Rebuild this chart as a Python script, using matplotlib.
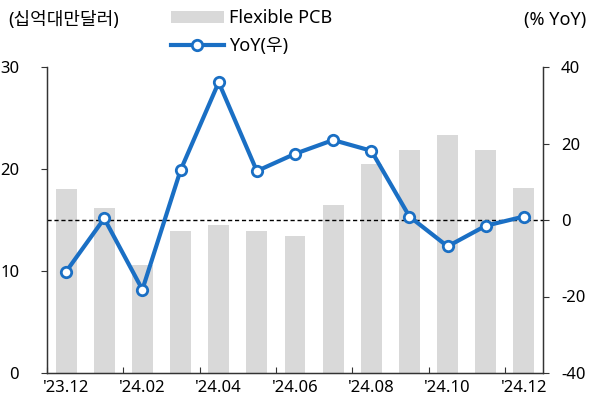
import matplotlib
matplotlib.use("Agg")
import matplotlib.pyplot as plt
from matplotlib.lines import Line2D
from matplotlib.patches import Patch

plt.rcParams['font.family'] = ['Noto Sans', 'Noto Sans CJK KR', 'DejaVu Sans']
plt.rcParams['font.size'] = 12
plt.rcParams['axes.unicode_minus'] = False

months = ["'23.12", "'24.01", "'24.02", "'24.03", "'24.04", "'24.05", "'24.06",
          "'24.07", "'24.08", "'24.09", "'24.10", "'24.11", "'24.12"]
sales = [18.0, 16.2, 10.6, 13.9, 14.5, 13.9, 13.4, 16.5, 20.5, 21.9, 23.3, 21.9, 18.1]
yoy = [-13.5, 0.4, -18.2, 13.0, 36.0, 12.8, 17.3, 20.9, 18.1, 0.9, -6.9, -1.5, 0.9]

bar_color = '#d9d9d9'
line_color = '#1a6fc4'
spine_color = '#333333'

fig = plt.figure(figsize=(5.92, 4.05), dpi=100)
ax = fig.add_axes([47/592, 32/405, 496/592, 306/405])
x = list(range(len(months)))
ax.bar(x, sales, width=0.55, color=bar_color, zorder=1)
ax.set_ylim(0, 30)
ax.set_yticks([0, 10, 20, 30])
ax.set_xlim(-0.5, len(months) - 0.5)

# ticks sit on category boundaries, labels under every other category
ax.set_xticks([i - 0.5 for i in range(0, len(months), 2)])
ax.set_xticklabels([])
ax.set_xticks(list(range(0, len(months), 2)), minor=True)
ax.set_xticklabels([months[i] for i in range(0, len(months), 2)], minor=True)
ax.tick_params(axis='x', which='major', direction='in', length=4, color=spine_color)
ax.tick_params(axis='x', which='minor', length=0, pad=5, labelsize=12)
ax.tick_params(axis='y', direction='out', length=4, pad=16, color=spine_color,
               labelsize=12)
ax.spines['top'].set_visible(False)
for s in ['left', 'bottom', 'right']:
    ax.spines[s].set_color(spine_color)
    ax.spines[s].set_linewidth(1.0)

ax2 = ax.twinx()
ax2.set_ylim(-40, 40)
ax2.set_yticks([-40, -20, 0, 20, 40])
ax2.tick_params(axis='y', direction='out', length=4, pad=9, color=spine_color,
                labelsize=12)
ax2.spines['top'].set_visible(False)
for s in ['left', 'bottom', 'right']:
    ax2.spines[s].set_color(spine_color)
ax2.axhline(0, color='black', linestyle=(0, (3, 2)), linewidth=1.0, zorder=2)
ax2.plot(x, yoy, color=line_color, linewidth=3.0, marker='o', markersize=7.5,
         markerfacecolor='white', markeredgecolor=line_color, markeredgewidth=2.0,
         zorder=3)

fig.text(8/592, 1 - 20/405, '(십억대만달러)', ha='left', va='center', fontsize=13)
fig.text(586/592, 1 - 20/405, '(% YoY)', ha='right', va='center', fontsize=13)

handles = [Patch(facecolor=bar_color, edgecolor='none'),
           Line2D([], [], color=line_color, linewidth=3.0, marker='o', markersize=7.5,
                  markerfacecolor='white', markeredgecolor=line_color, markeredgewidth=2.0)]
fig.legend(handles, ['Flexible PCB', 'YoY(우)'], loc='upper left',
           bbox_to_anchor=(164/592, 1 - 2/405), frameon=False, fontsize=13,
           handlelength=2.9, handleheight=0.7, handletextpad=0.3, labelspacing=0.55,
           borderaxespad=0)

fig.savefig('out.png', dpi=100)
